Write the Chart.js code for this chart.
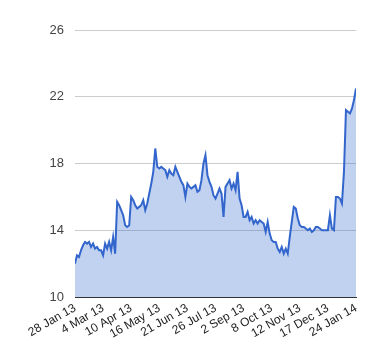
<!DOCTYPE html>
<html lang="en">
<head>
    <meta charset="UTF-8">
    <title>Price chart</title>
    <script src="https://cdn.jsdelivr.net/npm/chart.js"></script>
    <style>
        body {
            margin: 0;
            background: #fff;
        }

        #priceChart {
            width: 380px;
            height: 360px;
        }
    </style>
</head>
<body>
    <canvas id="priceChart" width="380" height="360"></canvas>

    <script>
        // date labels shown every 14 points along the x axis
        const dateLabels = ['28 Jan 13', '4 Mar 13', '10 Apr 13', '16 May 13', '21 Jun 13', '26 Jul 13',
            '2 Sep 13', '8 Oct 13', '12 Nov 13', '17 Dec 13', '24 Jan 14'];
        const labelStep = 14;

        // values
        const prices = [
            12.0, 12.5, 12.4, 12.8, 13.1, 13.3, 13.2, 13.3, 13.0, 13.2,
            12.9, 13.0, 12.8, 12.8, 12.5, 13.2, 12.9, 13.3, 12.8, 13.6,
            12.6, 15.7, 15.5, 15.2, 14.9, 14.3, 14.2, 14.3, 16.0, 15.8,
            15.5, 15.3, 15.4, 15.5, 15.8, 15.2, 15.6, 16.2, 16.8, 17.5,
            18.9, 17.8, 17.7, 17.8, 17.7, 17.6, 17.2, 17.6, 17.4, 17.3,
            17.8, 17.5, 17.2, 16.9, 16.7, 16.0, 16.8, 16.6, 16.5, 16.6,
            16.7, 16.3, 16.4, 17.0, 18.0, 18.5, 17.3, 16.9, 16.6, 16.1,
            15.9, 16.2, 16.5, 16.2, 14.8, 16.6, 16.8, 17.0, 16.5, 16.8,
            16.4, 17.5, 15.9, 15.5, 14.8, 14.8, 15.1, 14.6, 14.8, 14.4,
            14.6, 14.4, 14.6, 14.5, 14.4, 13.9, 14.5, 13.8, 13.4, 13.3,
            13.3, 12.9, 12.7, 13.0, 12.6, 12.9, 12.6, 13.6, 14.5, 15.4,
            15.3, 14.7, 14.3, 14.2, 14.2, 14.1, 14.0, 14.1, 13.9, 14.0,
            14.2, 14.2, 14.1, 14.0, 14.0, 14.0, 14.0, 14.9, 14.1, 14.0,
            16.0, 16.0, 15.9, 15.6, 17.5, 21.2, 21.1, 21.0, 21.3, 21.8,
            22.5
        ];

        const yMin = 10;
        const yMax = 26;
        const yStep = 4;

        const points = prices.map((v, i) => ({ x: i, y: v }));

        const ctx = document.getElementById('priceChart').getContext('2d');
        const priceChart = new Chart(ctx, {
            type: 'line',
            data: {
                datasets: [{
                    data: points,
                    borderColor: '#3366cc',
                    backgroundColor: 'rgba(51, 102, 204, 0.3)',
                    borderWidth: 2,
                    pointRadius: 0,
                    tension: 0,
                    fill: 'start'
                }]
            },
            options: {
                responsive: false,
                animation: false,
                layout: {
                    padding: { top: 30, right: 24, left: 0, bottom: 0 }
                },
                plugins: {
                    legend: { display: false },
                    tooltip: { enabled: false }
                },
                scales: {
                    x: {
                        type: 'linear',
                        min: 0,
                        max: prices.length - 1,
                        grid: { display: false, drawTicks: false },
                        border: { display: true, color: '#333333', width: 1 },
                        ticks: {
                            stepSize: labelStep,
                            autoSkip: false,
                            minRotation: 30,
                            maxRotation: 30,
                            padding: 4,
                            color: '#222222',
                            font: { family: 'Liberation Sans', size: 12 },
                            callback: v => dateLabels[Math.round(v / labelStep)] || ''
                        },
                        afterFit: scale => { scale.height = 63; }
                    },
                    y: {
                        min: yMin,
                        max: yMax,
                        grid: { color: '#cccccc', drawTicks: false },
                        border: { display: false },
                        ticks: {
                            stepSize: yStep,
                            padding: 11,
                            color: '#444444',
                            font: { family: 'Liberation Sans', size: 13 }
                        },
                        afterFit: scale => { scale.width = 75; }
                    }
                }
            }
        });
    </script>
</body>
</html>
